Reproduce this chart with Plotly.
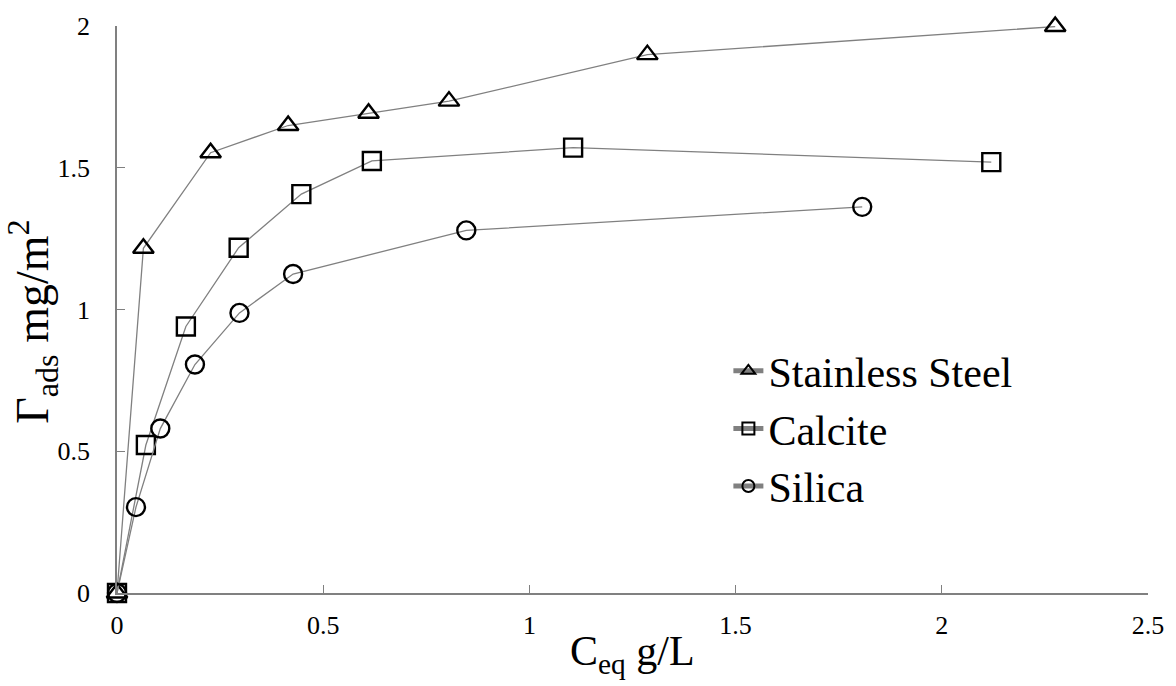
import plotly.graph_objects as go

ss_x = [0, 0.064, 0.227, 0.415, 0.610, 0.805, 1.286, 2.275]
ss_y = [0, 1.216, 1.553, 1.649, 1.692, 1.735, 1.899, 1.998]
ca_x = [0, 0.070, 0.167, 0.295, 0.447, 0.618, 1.106, 2.120]
ca_y = [0, 0.522, 0.940, 1.218, 1.407, 1.524, 1.571, 1.520]
si_x = [0, 0.046, 0.105, 0.189, 0.297, 0.427, 0.847, 1.807]
si_y = [0, 0.303, 0.580, 0.806, 0.988, 1.125, 1.279, 1.362]

names = ["Stainless Steel", "Calcite", "Silica"]
symbols = ["triangle-up-open", "square-open", "circle-open"]
xs = [ss_x, ca_x, si_x]
ys = [ss_y, ca_y, si_y]
x_ticks = [0, 0.5, 1, 1.5, 2, 2.5]
x_ticktext = ["0", "0.5", "1", "1.5", "2", "2.5"]
y_ticks = [0, 0.5, 1, 1.5, 2]
y_ticktext = ["0", "0.5", "1", "1.5", "2"]
x_title = "C<sub>eq</sub> g/L"
y_title = "Γ<sub>ads</sub> mg/m<sup>2</sup>"

FONT = "Liberation Serif"
fig = go.Figure()
for i in range(3):
    fig.add_trace(go.Scatter(
        x=xs[i], y=ys[i], name=names[i], mode="lines+markers",
        line=dict(color="#808080", width=1.3),
        marker=dict(symbol=symbols[i], size=18, color="black",
                    line=dict(color="black", width=2.4)),
        cliponaxis=False, legendgroup=str(i),
    ))

fig.update_layout(
    width=1176, height=686,
    margin=dict(l=117, r=20, t=23, b=93),
    paper_bgcolor="white", plot_bgcolor="white",
    font=dict(family=FONT, color="black", size=26),
    showlegend=True,
    legend=dict(x=0.593, y=0.29, xanchor="left", yanchor="middle",
                font=dict(size=42, family=FONT, color="black"), tracegroupgap=0,
                itemsizing="constant", bgcolor="rgba(0,0,0,0)"),
    xaxis=dict(range=[0, 2.5], tickvals=x_ticks, ticktext=x_ticktext,
               showgrid=False, zeroline=False, showline=True,
               linecolor="#808080", linewidth=1.5,
               ticks="inside", ticklen=8, tickcolor="#808080", tickwidth=1,
               ticklabelstandoff=8,
               tickfont=dict(size=26, family=FONT, color="black")),
    yaxis=dict(range=[0, 2], tickvals=y_ticks, ticktext=y_ticktext,
               showgrid=False, zeroline=False, showline=True,
               linecolor="#808080", linewidth=1.5,
               ticks="inside", ticklen=8, tickcolor="#808080", tickwidth=1,
               ticklabelstandoff=20,
               tickfont=dict(size=26, family=FONT, color="black")),
    annotations=[
        dict(text=x_title, xref="paper", yref="paper", x=0.5, y=-0.108,
             xanchor="center", yanchor="middle", showarrow=False,
             font=dict(size=42, family=FONT, color="black")),
        dict(text=y_title, xref="paper", yref="paper", x=-0.082, y=0.479,
             xanchor="center", yanchor="middle", textangle=-90, showarrow=False,
             font=dict(size=46, family=FONT, color="black")),
    ],
)

fig.write_html("out.html")
